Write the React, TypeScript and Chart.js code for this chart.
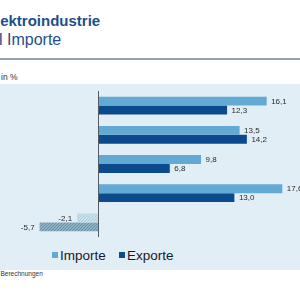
import { useEffect, useRef } from "react";
import { Chart, registerables } from "chart.js";

Chart.register(...registerables);

// Kategorien und Veränderungsraten in %
const categories = ["Kategorie 1", "Kategorie 2", "Kategorie 3", "Kategorie 4", "Kategorie 5"];
const seriesNames = ["Importe", "Exporte"];
const importe = [16.1, 13.5, 9.8, 17.6, -2.1];
const exporte = [12.3, 14.2, 6.8, 13.0, -5.7];
const xMin = -9.5;
const xMax = 19.3;

const FONT = '"Liberation Sans", Arial, Helvetica, sans-serif';
const TITLE_BLUE = "#1d4f8b";
const IMPORT_COLOR = "#62a9d3";
const EXPORT_COLOR = "#0c4a8e";
const PANEL_BG = "#e2eef6";
const seriesColors = [IMPORT_COLOR, EXPORT_COLOR];

// Schraffur für negative Werte
function makeHatch(bg: string, line: string): CanvasPattern | string {
  const c = document.createElement("canvas");
  c.width = 3;
  c.height = 3;
  const g = c.getContext("2d");
  if (!g) return bg;
  g.fillStyle = bg;
  g.fillRect(0, 0, 3, 3);
  g.fillStyle = line;
  g.fillRect(0, 2, 1, 1);
  g.fillRect(1, 1, 1, 1);
  g.fillRect(2, 0, 1, 1);
  return g.createPattern(c, "repeat") || bg;
}

const fmt = (v: number) => v.toFixed(1).replace(".", ",");

const valueLabels = {
  id: "valueLabels",
  afterDatasetsDraw(chart: any) {
    const ctx = chart.ctx;
    ctx.save();
    ctx.font = `8px ${FONT}`;
    ctx.fillStyle = "#2a2a2a";
    ctx.textBaseline = "middle";
    chart.data.datasets.forEach((ds: any, i: number) => {
      const meta = chart.getDatasetMeta(i);
      meta.data.forEach((bar: any, j: number) => {
        const v = ds.data[j] as number;
        const { x, y } = bar.getProps(["x", "y"], true);
        if (v >= 0) {
          ctx.textAlign = "left";
          ctx.fillText(fmt(v), x + 4.5, y + 0.5);
        } else {
          ctx.textAlign = "right";
          ctx.fillText(fmt(v), x - 5, y + 0.5);
        }
      });
    });
    ctx.restore();
  },
};

const zeroLine = {
  id: "zeroLine",
  afterDatasetsDraw(chart: any) {
    const { ctx, chartArea, scales } = chart;
    const x = Math.round(scales.x.getPixelForValue(0)) - 0.5;
    ctx.save();
    ctx.strokeStyle = "#555b60";
    ctx.lineWidth = 1;
    ctx.beginPath();
    ctx.moveTo(x, chartArea.top);
    ctx.lineTo(x, chartArea.bottom);
    ctx.stroke();
    ctx.restore();
  },
};

function BarChart() {
  const ref = useRef<HTMLCanvasElement | null>(null);

  useEffect(() => {
    if (!ref.current) return;
    const importNeg = makeHatch("#c8e1ea", "#a9cfdf");
    const exportNeg = makeHatch("#8fb0c4", "#6a8fa8");
    const negFills = [importNeg, exportNeg];
    const values = [importe, exporte];

    const chart = new Chart(ref.current, {
      type: "bar",
      data: {
        labels: categories,
        datasets: seriesNames.map((name, i) => ({
          label: name,
          data: values[i],
          backgroundColor: (c: any) =>
            (c.raw as number) < 0 ? negFills[i] : seriesColors[i],
          borderWidth: 0,
          categoryPercentage: 0.61,
          barPercentage: 1,
        })),
      },
      options: {
        indexAxis: "y",
        animation: false,
        responsive: false,
        maintainAspectRatio: false,
        layout: { padding: { top: 7, bottom: 3, left: 0, right: 0 } },
        scales: {
          x: { type: "linear", min: xMin, max: xMax, display: false },
          y: { type: "category", display: false },
        },
        plugins: {
          legend: { display: false },
          tooltip: { enabled: false },
        },
      },
      plugins: [zeroLine, valueLabels],
    } as any);

    return () => chart.destroy();
  }, []);

  return <canvas ref={ref} width={300} height={156} style={{ display: "block" }} />;
}

export default function App() {
  return (
    <div
      style={{
        position: "fixed",
        left: 0,
        top: 0,
        width: 300,
        height: 300,
        overflow: "hidden",
        background: "#ffffff",
        fontFamily: FONT,
      }}
    >
      <div
        style={{
          position: "absolute",
          left: -14,
          top: 13,
          fontSize: 15,
          lineHeight: "15px",
          fontWeight: 700,
          color: TITLE_BLUE,
          whiteSpace: "nowrap",
        }}
      >
        Elektroindustrie
      </div>
      <div
        style={{
          position: "absolute",
          left: -1,
          top: 31.5,
          fontSize: 16,
          lineHeight: "16px",
          color: TITLE_BLUE,
          whiteSpace: "nowrap",
        }}
      >
        l Importe
      </div>
      <div
        style={{
          position: "absolute",
          left: 0,
          top: 58,
          width: 300,
          height: 2,
          background: "#93a2ad",
        }}
      />
      <div
        style={{
          position: "absolute",
          left: 1,
          top: 73.3,
          fontSize: 8.5,
          lineHeight: "8.5px",
          color: "#333",
          whiteSpace: "nowrap",
        }}
      >
        in %
      </div>
      <div
        style={{
          position: "absolute",
          left: 0,
          top: 84,
          width: 300,
          height: 186,
          background: PANEL_BG,
        }}
      >
        <BarChart />
        {seriesNames.map((name, i) => (
          <div key={name}>
            <div
              style={{
                position: "absolute",
                left: i === 0 ? 52 : 119,
                top: 168,
                width: 6,
                height: 6,
                background: seriesColors[i],
              }}
            />
            <div
              style={{
                position: "absolute",
                left: i === 0 ? 60 : 127,
                top: 165,
                fontSize: 13.5,
                lineHeight: "13.5px",
                color: "#1a1a1a",
                whiteSpace: "nowrap",
              }}
            >
              {name}
            </div>
          </div>
        ))}
      </div>
      <div
        style={{
          position: "absolute",
          left: 0.5,
          top: 271,
          fontSize: 6.5,
          lineHeight: "6.5px",
          color: "#333",
          whiteSpace: "nowrap",
        }}
      >
        Berechnungen
      </div>
    </div>
  );
}
